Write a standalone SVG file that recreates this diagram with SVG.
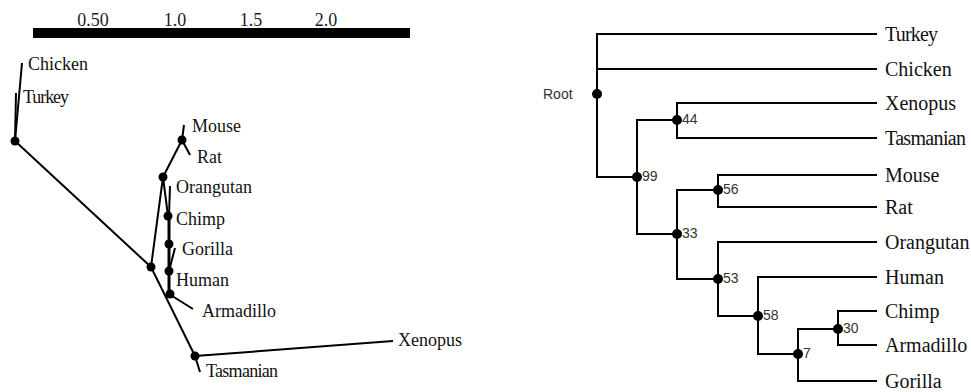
<svg xmlns="http://www.w3.org/2000/svg" width="971" height="392" viewBox="0 0 971 392">
<style>
.e{stroke:#000;stroke-width:2;fill:none;stroke-linecap:butt}
.n{fill:#000}
.lt{font-family:"Liberation Serif","Times New Roman",serif;font-size:18px;fill:#111}
.rt{font-family:"Liberation Serif","Times New Roman",serif;font-size:20px;fill:#111}
.sc{font-family:"Liberation Serif","Times New Roman",serif;font-size:18px;fill:#222;text-anchor:middle}
.bs{font-family:"Liberation Sans",Arial,sans-serif;font-size:14px;fill:#333}
</style>
<rect width="971" height="392" fill="#fff"/>
<g id="scale">
<rect x="33" y="28" width="377" height="10" fill="#000"/>
<text class="sc" x="93" y="26">0.50</text>
<text class="sc" x="175" y="26">1.0</text>
<text class="sc" x="251" y="26">1.5</text>
<text class="sc" x="326" y="26">2.0</text>
</g>
<g id="connectors">
<line class="e" x1="15" y1="141" x2="22" y2="63"/>
<line class="e" x1="15" y1="141" x2="16" y2="93"/>
<line class="e" x1="15" y1="141" x2="151" y2="267"/>
<line class="e" x1="151" y1="267" x2="163" y2="177"/>
<line class="e" x1="151" y1="267" x2="195" y2="356"/>
<line class="e" x1="195" y1="356" x2="393" y2="341"/>
<line class="e" x1="195" y1="356" x2="200" y2="372"/>
<line class="e" x1="163" y1="177" x2="182" y2="140"/>
<line class="e" x1="182" y1="140" x2="184" y2="125"/>
<line class="e" x1="182" y1="140" x2="190" y2="155"/>
<line class="e" x1="163" y1="177" x2="168" y2="216"/>
<line class="e" x1="170" y1="186" x2="169" y2="216"/>
<line class="e" style="stroke-width:3" x1="169" y1="216" x2="169" y2="294"/>
<line class="e" x1="175" y1="248" x2="169" y2="271"/>
<line class="e" x1="169" y1="294" x2="193" y2="309"/>
<path class="e" d="M877 34H597V177H637"/>
<path class="e" d="M597 69H877"/>
<path class="e" d="M877 103H677V138H877"/>
<path class="e" d="M677 120H637V234H677"/>
<path class="e" d="M877 175H718V207H877"/>
<path class="e" d="M718 190H677V279H718"/>
<path class="e" d="M877 242H718V316H758"/>
<path class="e" d="M877 277H758V354H798"/>
<path class="e" d="M877 311H838V345H877"/>
<path class="e" d="M838 329H798V381H877"/>
</g>
<g id="L-root"><circle class="n" cx="15" cy="141" r="4.5"/></g>
<g id="L-chicken"><text class="lt" x="28" y="70">Chicken</text></g>
<g id="L-turkey"><text class="lt" x="23" y="103" textLength="46" lengthAdjust="spacing">Turkey</text></g>
<g id="L-99"><circle class="n" cx="151" cy="267" r="4.5"/></g>
<g id="L-44"><circle class="n" cx="195" cy="356" r="4.5"/></g>
<g id="L-xenopus"><text class="lt" x="398" y="346">Xenopus</text></g>
<g id="L-tasmanian"><text class="lt" x="206" y="377" textLength="72" lengthAdjust="spacing">Tasmanian</text></g>
<g id="L-33"><circle class="n" cx="163" cy="177" r="4.5"/></g>
<g id="L-56"><circle class="n" cx="182" cy="140" r="4.5"/></g>
<g id="L-mouse"><text class="lt" x="192" y="132">Mouse</text></g>
<g id="L-rat"><text class="lt" x="197" y="163">Rat</text></g>
<g id="L-orangutan"><text class="lt" x="176" y="193">Orangutan</text></g>
<g id="L-53"><circle class="n" cx="168" cy="216" r="4.5"/></g>
<g id="L-chimp"><text class="lt" x="176" y="225">Chimp</text></g>
<g id="L-58"><circle class="n" cx="169" cy="244" r="4.5"/></g>
<g id="L-gorilla"><text class="lt" x="182" y="255">Gorilla</text></g>
<g id="L-7"><circle class="n" cx="169" cy="271" r="4.5"/></g>
<g id="L-human"><text class="lt" x="176" y="286">Human</text></g>
<g id="L-30"><circle class="n" cx="170" cy="294" r="4.5"/></g>
<g id="L-armadillo"><text class="lt" x="202" y="317">Armadillo</text></g>
<g id="R-root"><circle class="n" cx="597" cy="94" r="5"/><text class="bs" x="543" y="99">Root</text></g>
<g id="R-44"><circle class="n" cx="677" cy="120" r="5"/><text class="bs" x="682" y="124">44</text></g>
<g id="R-99"><circle class="n" cx="637" cy="177" r="5"/><text class="bs" x="642" y="181">99</text></g>
<g id="R-56"><circle class="n" cx="718" cy="190" r="5"/><text class="bs" x="723" y="194">56</text></g>
<g id="R-33"><circle class="n" cx="677" cy="234" r="5"/><text class="bs" x="682" y="238">33</text></g>
<g id="R-53"><circle class="n" cx="718" cy="279" r="5"/><text class="bs" x="723" y="283">53</text></g>
<g id="R-58"><circle class="n" cx="758" cy="316" r="5"/><text class="bs" x="763" y="320">58</text></g>
<g id="R-7"><circle class="n" cx="798" cy="354" r="5"/><text class="bs" x="803" y="358">7</text></g>
<g id="R-30"><circle class="n" cx="838" cy="329" r="5"/><text class="bs" x="843" y="333">30</text></g>
<g id="R-turkey"><text class="rt" x="885" y="41" textLength="53" lengthAdjust="spacing">Turkey</text></g>
<g id="R-chicken"><text class="rt" x="885" y="76">Chicken</text></g>
<g id="R-xenopus"><text class="rt" x="885" y="110">Xenopus</text></g>
<g id="R-tasmanian"><text class="rt" x="885" y="145" textLength="81" lengthAdjust="spacing">Tasmanian</text></g>
<g id="R-mouse"><text class="rt" x="885" y="182">Mouse</text></g>
<g id="R-rat"><text class="rt" x="885" y="214">Rat</text></g>
<g id="R-orangutan"><text class="rt" x="885" y="249">Orangutan</text></g>
<g id="R-human"><text class="rt" x="885" y="284">Human</text></g>
<g id="R-chimp"><text class="rt" x="885" y="318">Chimp</text></g>
<g id="R-armadillo"><text class="rt" x="885" y="352">Armadillo</text></g>
<g id="R-gorilla"><text class="rt" x="885" y="388">Gorilla</text></g>
</svg>
